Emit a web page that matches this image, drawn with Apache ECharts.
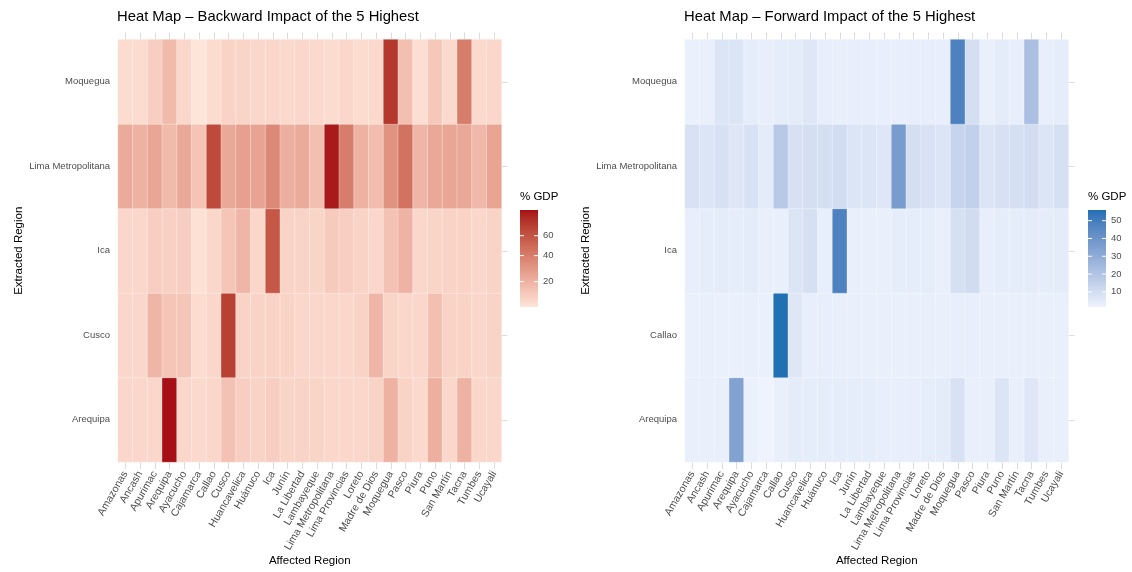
<!DOCTYPE html>
<html>
<head>
<meta charset="utf-8">
<script src="https://cdn.jsdelivr.net/npm/echarts@6/dist/echarts.min.js"></script>
<style>html,body{margin:0;padding:0;background:#fff}#c{width:1132px;height:572px}</style>
</head>
<body>
<div id="c"></div>
<script>
// ---------- DATA ----------
const regions = ['Amazonas','Ancash','Apurimac','Arequipa','Ayacucho','Cajamarca','Callao','Cusco','Huancavelica','Huánuco','Ica','Junín','La Libertad','Lambayeque','Lima Metropolitana','Lima Provincias','Loreto','Madre de Dios','Moquegua','Pasco','Piura','Puno','San Martín','Tacna','Tumbes','Ucayali'];

// Backward impact (rows listed bottom -> top)
const backwardRows = ['Arequipa','Cusco','Ica','Lima Metropolitana','Moquegua'];
const bArequipa = [10,10,10,91.7,10,9.5,10,15,12,11,12,10.5,11,10.5,10,10,10,11,20,11,9.5,21,10,20,10,10];
const bCusco    = [10,10,18.5,14,14,9,10,70,11,11,11,11,10,10,10,10,11,18.5,10.5,10,10,16,11,11,10,11];
const bIca      = [10,10,12,11.5,12,8,10,14,18.5,10,59,11,11,10.5,13,12,11,10,15,19.5,10,10.5,11,11,10,11];
const bLimaMet  = [22,20,24,17,23,14.5,66,23,26,25,35,21,22,16,88,40,20,16.5,31,45,19,23,24,23,18,24.5];
const bMoquegua = [9,9,12,17,10,7.1,9,11,10.5,10,10,9.5,10,9.5,9,10,9,9.5,75,16,8.5,13.6,9.5,40,9.5,10];
const backwardValues = [bArequipa, bCusco, bIca, bLimaMet, bMoquegua];
const backwardTicks = [20, 40, 60];

// Forward impact (rows listed bottom -> top)
const forwardRows = ['Arequipa','Callao','Ica','Lima Metropolitana','Moquegua'];
const fArequipa = [3,3,3,34,2.5,1.5,3,4.5,4,4,4,4,4,3.5,3.5,3.5,4,4.5,8,3,3,7,3,6.5,3,3];
const fCallao   = [2.5,3,2.5,2.5,3,2.5,56,6,3.5,3.5,3,3,3,3,3,3,3,3,3.5,3.5,3,3,3,3,3,3];
const fIca      = [3.5,4,4.5,4,4.5,3,3,7,9,3.5,48,3,3,3,4,4,4,3,9,10.5,3.5,4,4,4.5,4,4.5];
const fLimaMet  = [8,7,8.5,6,8,4.5,18,8.5,9.5,9.5,10,7,7,6.5,36.5,9.5,8,7,13.5,15,7,8.5,9,10,7,9];
const fMoquegua = [2.5,3,7,7,4,3.5,4,4.5,6,3.5,3,3.5,3.5,3.5,3.5,3.5,3.5,3.5,48,9.5,3,4.5,3.5,22,3.5,4];
const forwardValues = [fArequipa, fCallao, fIca, fLimaMet, fMoquegua];
const forwardTicks = [10, 20, 30, 40, 50];

// ---------- COLOUR HELPERS (Lab interpolation like ggplot) ----------
function hex2rgb(h){h=h.replace('#','');return [0,2,4].map(i=>parseInt(h.substr(i,2),16));}
function lin(c){c/=255;return c<=0.04045?c/12.92:Math.pow((c+0.055)/1.055,2.4);}
function unlin(c){c=c<=0.0031308?12.92*c:1.055*Math.pow(c,1/2.4)-0.055;return Math.max(0,Math.min(255,Math.round(c*255)));}
function rgb2lab(rgb){const [R,G,B]=rgb.map(lin);
  let X=(0.4124*R+0.3576*G+0.1805*B)/0.95047, Y=(0.2126*R+0.7152*G+0.0722*B), Z=(0.0193*R+0.1192*G+0.9505*B)/1.08883;
  const f=t=>t>0.008856?Math.cbrt(t):7.787*t+16/116;
  const fx=f(X),fy=f(Y),fz=f(Z);return [116*fy-16,500*(fx-fy),200*(fy-fz)];}
function lab2rgb(lab){const fy=(lab[0]+16)/116,fx=fy+lab[1]/500,fz=fy-lab[2]/200;
  const fi=t=>t>0.206893?t*t*t:(t-16/116)/7.787;
  const X=fi(fx)*0.95047,Y=fi(fy),Z=fi(fz)*1.08883;
  const R=3.2406*X-1.5372*Y-0.4986*Z,G=-0.9689*X+1.8758*Y+0.0415*Z,B=0.0557*X-0.2040*Y+1.0570*Z;
  return 'rgb('+[R,G,B].map(unlin).join(',')+')';}
function labInterp(lo,hi,t){const a=rgb2lab(hex2rgb(lo)),b=rgb2lab(hex2rgb(hi));return lab2rgb(a.map((v,i)=>v+(b[i]-v)*t));}

const redLow='#fee5da', redHigh='#a50f15';
const blueLow='#eef3fd', blueHigh='#2070b4';

function extent(rows){const all=[].concat(...rows);return [Math.min(...all),Math.max(...all)];}
const [bMin,bMax]=extent(backwardValues);
const [fMin,fMax]=extent(forwardValues);
const fracB=v=>(Math.sqrt(v)-Math.sqrt(bMin))/(Math.sqrt(bMax)-Math.sqrt(bMin)); // sqrt colour scale
const fracF=v=>(v-fMin)/(fMax-fMin);

const N=60;
const redStops=[],blueStops=[];
for(let i=0;i<N;i++){
  const vb=bMin+(bMax-bMin)*i/(N-1); redStops.push(labInterp(redLow,redHigh,fracB(vb)));
  blueStops.push(labInterp(blueLow,blueHigh,i/(N-1)));
}

function toCells(rows){const out=[];rows.forEach((r,yi)=>r.forEach((v,xi)=>out.push([xi,yi,v])));return out;}

// ---------- LAYOUT ----------
const FONT='"Liberation Sans", Arial, sans-serif';
const grids=[
  {left:118,top:39.5,width:383.5,height:422.5,containLabel:false,outerBoundsMode:'none'},
  {left:685,top:39.5,width:383.5,height:422.5,containLabel:false,outerBoundsMode:'none'}
];
const tickCol='#dcdcdc';

function xAxes(gi){return [
  {type:'category',gridIndex:gi,data:regions,position:'bottom',
   axisLine:{show:false},axisTick:{show:true,alignWithLabel:true,interval:0,length:7,lineStyle:{color:tickCol}},
   axisLabel:{rotate:60,fontSize:10.5,color:'#4d4d4d',fontFamily:FONT,margin:10,interval:0},
   splitLine:{show:false},
   name:'Affected Region',nameLocation:'middle',nameGap:93,nameMoveOverlap:false,
   nameTextStyle:{fontSize:11.5,color:'#000',fontFamily:FONT}},
  {type:'category',gridIndex:gi,data:regions,position:'top',
   axisLine:{show:false},axisTick:{show:true,alignWithLabel:true,interval:0,length:7,lineStyle:{color:tickCol}},
   axisLabel:{show:false},splitLine:{show:false}}
];}
function yAxes(gi,rows){return [
  {type:'category',gridIndex:gi,data:rows,position:'left',
   axisLine:{show:false},axisTick:{show:false},
   axisLabel:{fontSize:9.5,color:'#4d4d4d',fontFamily:FONT,margin:8,interval:0},
   name:'Extracted Region',nameLocation:'middle',nameGap:93,nameRotate:90,nameMoveOverlap:false,
   nameTextStyle:{fontSize:11.5,color:'#000',fontFamily:FONT}},
  {type:'category',gridIndex:gi,data:rows,position:'right',
   axisLine:{show:false},axisTick:{show:true,alignWithLabel:true,interval:0,length:6,lineStyle:{color:tickCol}},
   axisLabel:{show:false}}
];}

// ---------- LEGENDS (colour bars) ----------
function colorBar(x,y,w,h,title,stops,ticks,frac){
  const els=[];
  els.push({type:'text',left:x,top:y-19,style:{text:title,fontSize:11.5,fill:'#000',fontFamily:FONT}});
  const cs=[];const M=30;
  for(let i=0;i<M;i++){cs.push({offset:i/(M-1),color:stops(1-i/(M-1))});}
  els.push({type:'rect',left:x,top:y,shape:{width:w,height:h},
    style:{fill:new echarts.graphic.LinearGradient(0,0,0,1,cs)}});
  ticks.forEach(t=>{
    const ty=y+h-frac(t)*h;
    els.push({type:'line',shape:{x1:x,y1:ty,x2:x+4,y2:ty},style:{stroke:'#fff',lineWidth:1}});
    els.push({type:'line',shape:{x1:x+w-4,y1:ty,x2:x+w,y2:ty},style:{stroke:'#fff',lineWidth:1}});
    els.push({type:'text',x:x+w+5,y:ty,style:{text:String(t),fontSize:9.5,fill:'#4d4d4d',fontFamily:FONT,textVerticalAlign:'middle',verticalAlign:'middle'}});
  });
  return els;
}

const chart=echarts.init(document.getElementById('c'),null,{renderer:'canvas'});
const cellStyle={borderColor:'rgba(255,255,255,0.55)',borderWidth:0.6};
chart.setOption({
  animation:false,
  backgroundColor:'#fff',
  title:[
    {text:'Heat Map – Backward Impact of the 5 Highest',left:117,top:9,padding:0,textStyle:{fontSize:14.8,fontWeight:'normal',color:'#000',fontFamily:FONT}},
    {text:'Heat Map – Forward Impact of the 5 Highest',left:684,top:9,padding:0,textStyle:{fontSize:14.8,fontWeight:'normal',color:'#000',fontFamily:FONT}}
  ],
  grid:grids,
  xAxis:[...xAxes(0),...xAxes(1)],
  yAxis:[...yAxes(0,backwardRows),...yAxes(1,forwardRows)],
  visualMap:[
    {type:'continuous',show:false,seriesIndex:0,dimension:2,min:bMin,max:bMax,inRange:{color:redStops}},
    {type:'continuous',show:false,seriesIndex:1,dimension:2,min:fMin,max:fMax,inRange:{color:blueStops}}
  ],
  series:[
    {type:'heatmap',xAxisIndex:0,yAxisIndex:0,data:toCells(backwardValues),itemStyle:cellStyle,emphasis:{disabled:true}},
    {type:'heatmap',xAxisIndex:2,yAxisIndex:2,data:toCells(forwardValues),itemStyle:cellStyle,emphasis:{disabled:true}}
  ],
  graphic:[
    ...colorBar(520,210,18,97,'% GDP',t=>labInterp(redLow,redHigh,t),backwardTicks,fracB),
    ...colorBar(1088,210,18,97,'% GDP',t=>labInterp(blueLow,blueHigh,t),forwardTicks,fracF)
  ]
});
</script>
</body>
</html>
